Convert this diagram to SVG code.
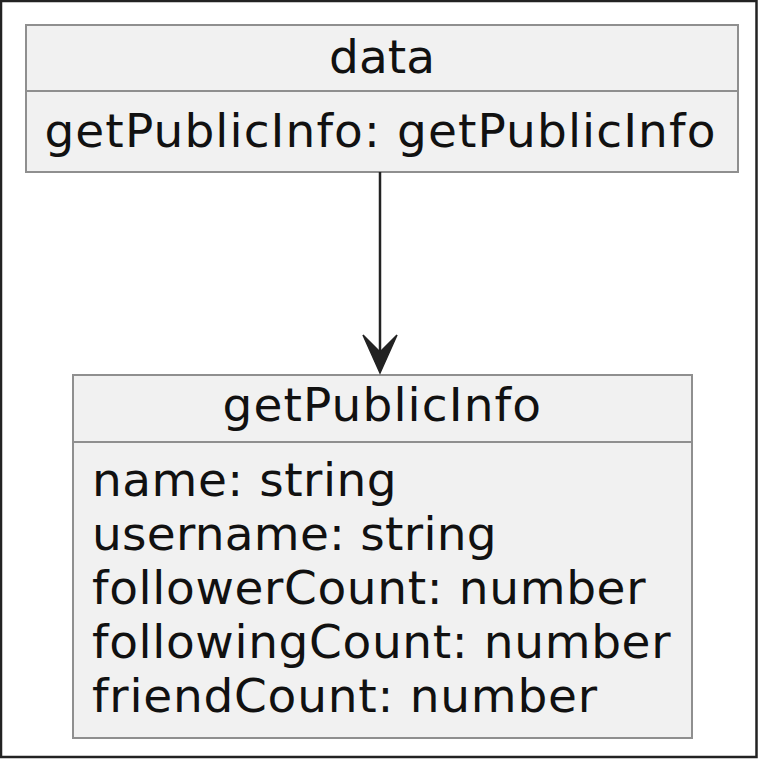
<svg xmlns="http://www.w3.org/2000/svg" width="758" height="759" viewBox="0 0 758 759">
<style>
.box{fill:#f1f1f1;stroke:#8f8f8f;stroke-width:2}
.div{stroke:#8f8f8f;stroke-width:2}
.t{font-family:"DejaVu Sans","Liberation Sans",sans-serif;font-size:47px;fill:#111}
.c{text-anchor:middle}
.edge{stroke:#222;stroke-width:2.5;fill:none}
</style>
<rect x="1" y="1" width="755.5" height="756" fill="#fff" stroke="#222" stroke-width="2.5"/>
<g id="node-data">
<rect class="box" x="26" y="25" width="712" height="147"/>
<line class="div" x1="26" y1="91" x2="738" y2="91"/>
<text class="t c" x="382" y="73">data</text>
<text class="t" x="44.4" y="147" textLength="671" lengthAdjust="spacing">getPublicInfo: getPublicInfo</text>
</g>
<g id="node-getPublicInfo">
<rect class="box" x="73" y="375" width="619" height="363"/>
<line class="div" x1="73" y1="442" x2="692" y2="442"/>
<text class="t c" x="381.7" y="421" textLength="318.5" lengthAdjust="spacing">getPublicInfo</text>
<text class="t" x="92" y="496" textLength="304.6" lengthAdjust="spacing">name: string</text>
<text class="t" x="92" y="550" textLength="404.6" lengthAdjust="spacing">username: string</text>
<text class="t" x="92" y="604" textLength="553.5" lengthAdjust="spacing">followerCount: number</text>
<text class="t" x="92" y="658" textLength="578.5" lengthAdjust="spacing">followingCount: number</text>
<text class="t" x="92" y="712" textLength="505" lengthAdjust="spacing">friendCount: number</text>
</g>
<g id="connectors">
<line class="edge" x1="380" y1="172" x2="380" y2="360"/>
<polygon points="380,373 363,335 380,352 397,335" fill="#222" stroke="#222" stroke-width="1.5" stroke-linejoin="miter"/>
</g>
</svg>
